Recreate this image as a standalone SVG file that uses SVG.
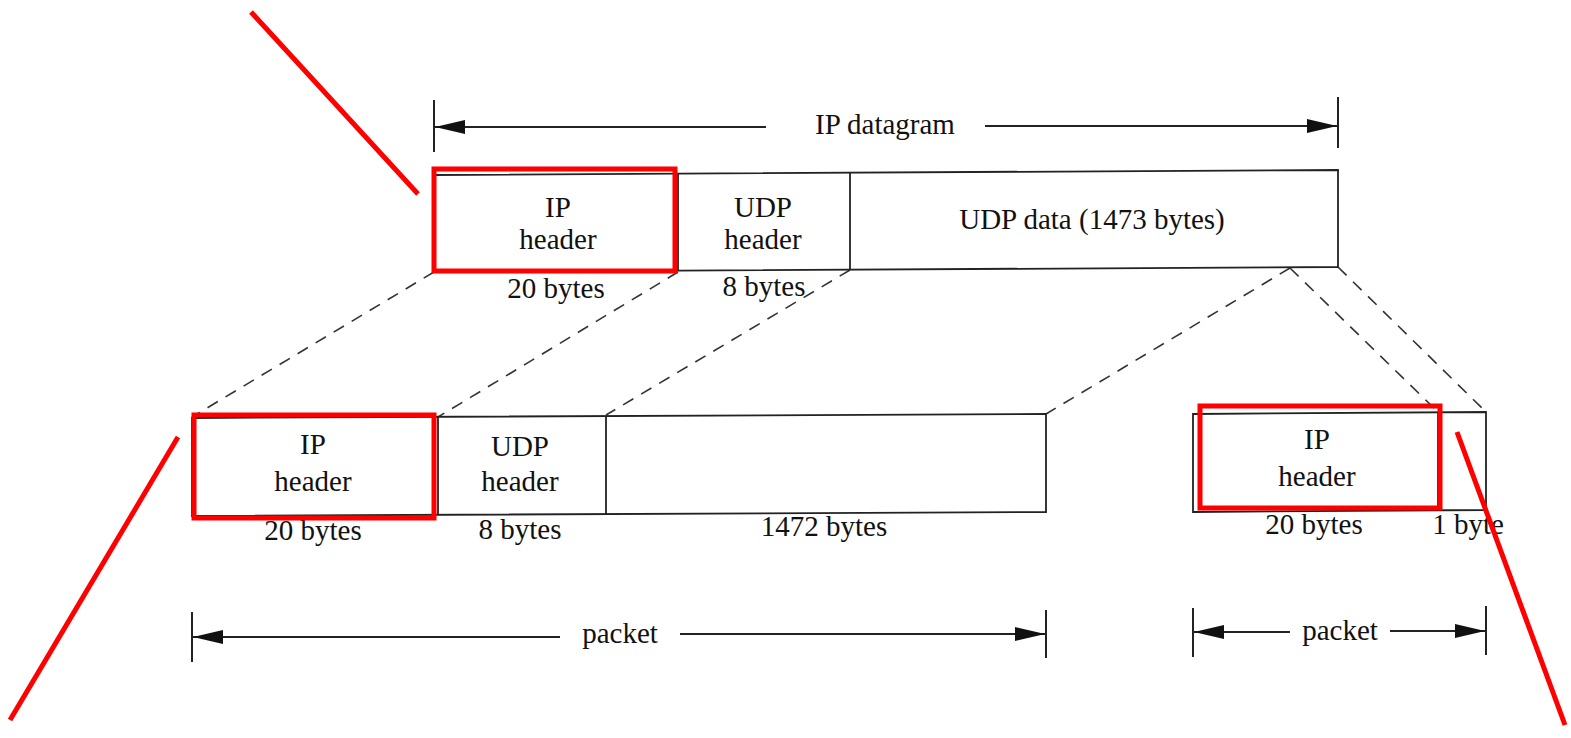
<svg xmlns="http://www.w3.org/2000/svg" width="1571" height="738" viewBox="0 0 1571 738">
<defs>
<marker id="ah" viewBox="0 0 30 14" refX="30" refY="7" markerWidth="30" markerHeight="14" markerUnits="userSpaceOnUse" orient="auto-start-reverse">
<path d="M0,0 L30,7 L0,14 Z" fill="#111"/>
</marker>
<style>
.t{font-family:"Liberation Serif","DejaVu Serif",serif;font-size:29px;fill:#111;text-anchor:middle}
.box{fill:#fff;stroke:#222;stroke-width:1.8}
.ln{stroke:#222;stroke-width:1.8;fill:none}
.dim{stroke:#222;stroke-width:2;fill:none}
.dash{stroke:#333;stroke-width:1.6;stroke-dasharray:12 9;fill:none}
.red{stroke:#f00;stroke-width:5;fill:none}
</style>
</defs>
<rect width="1571" height="738" fill="#fff"/>

<g id="connectors">
<line class="dash" x1="434" y1="272" x2="192" y2="417"/>
<line class="dash" x1="678" y1="272" x2="438" y2="417"/>
<line class="dash" x1="850" y1="270" x2="606" y2="415"/>
<line class="dash" x1="1290" y1="268" x2="1046" y2="414"/>
<line class="dash" x1="1290" y1="268" x2="1438" y2="412"/>
<line class="dash" x1="1338" y1="267" x2="1486" y2="412"/>
</g>

<g id="dim-ip-datagram">
<line class="dim" x1="434" y1="100" x2="434" y2="152"/>
<line class="dim" x1="1338" y1="97" x2="1338" y2="148"/>
<line class="dim" x1="766" y1="127" x2="435" y2="127" marker-end="url(#ah)"/>
<line class="dim" x1="985" y1="126" x2="1337" y2="126" marker-end="url(#ah)"/>
<text class="t" x="885" y="134">IP datagram</text>
</g>

<g id="datagram">
<polygon class="box" points="434,175 1338,170 1338,267 434,272"/>
<line class="ln" x1="678" y1="174" x2="678" y2="271"/>
<line class="ln" x1="850" y1="173" x2="850" y2="270"/>
<text class="t" x="558" y="217">IP</text>
<text class="t" x="558" y="249">header</text>
<text class="t" x="763" y="217">UDP</text>
<text class="t" x="763" y="249">header</text>
<text class="t" x="1092" y="229">UDP data (1473 bytes)</text>
<text class="t" x="556" y="298">20 bytes</text>
<text class="t" x="764" y="296">8 bytes</text>
</g>

<g id="packet1">
<polygon class="box" points="192,418 1046,414 1046,512 192,516"/>
<line class="ln" x1="438" y1="417" x2="438" y2="515"/>
<line class="ln" x1="606" y1="416" x2="606" y2="514"/>
<text class="t" x="313" y="454">IP</text>
<text class="t" x="313" y="491">header</text>
<text class="t" x="520" y="456">UDP</text>
<text class="t" x="520" y="491">header</text>
<text class="t" x="313" y="540">20 bytes</text>
<text class="t" x="520" y="539">8 bytes</text>
<text class="t" x="824" y="536">1472 bytes</text>
</g>

<g id="packet2">
<polygon class="box" points="1193,414 1486,412 1486,510 1193,512"/>
<line class="ln" x1="1438" y1="412" x2="1438" y2="510"/>
<text class="t" x="1317" y="449">IP</text>
<text class="t" x="1317" y="486">header</text>
<text class="t" x="1314" y="534">20 bytes</text>
<text class="t" x="1468" y="534">1 byte</text>
</g>

<g id="dim-packet1">
<line class="dim" x1="192" y1="612" x2="192" y2="662"/>
<line class="dim" x1="1046" y1="610" x2="1046" y2="658"/>
<line class="dim" x1="560" y1="637" x2="193" y2="637" marker-end="url(#ah)"/>
<line class="dim" x1="680" y1="634" x2="1045" y2="634" marker-end="url(#ah)"/>
<text class="t" x="620" y="643">packet</text>
</g>

<g id="dim-packet2">
<line class="dim" x1="1193" y1="608" x2="1193" y2="657"/>
<line class="dim" x1="1486" y1="606" x2="1486" y2="655"/>
<line class="dim" x1="1290" y1="632" x2="1194" y2="632" marker-end="url(#ah)"/>
<line class="dim" x1="1390" y1="631" x2="1485" y2="631" marker-end="url(#ah)"/>
<text class="t" x="1340" y="640">packet</text>
</g>

<g id="highlights">
<rect class="red" x="434" y="169" width="241" height="102"/>
<rect class="red" x="194" y="415" width="240" height="103"/>
<rect class="red" x="1200" y="406" width="240" height="102"/>
<line class="red" x1="251" y1="12" x2="418" y2="194"/>
<line class="red" x1="178" y1="437" x2="10" y2="720"/>
<line class="red" x1="1457" y1="432" x2="1565" y2="725"/>
</g>
</svg>
